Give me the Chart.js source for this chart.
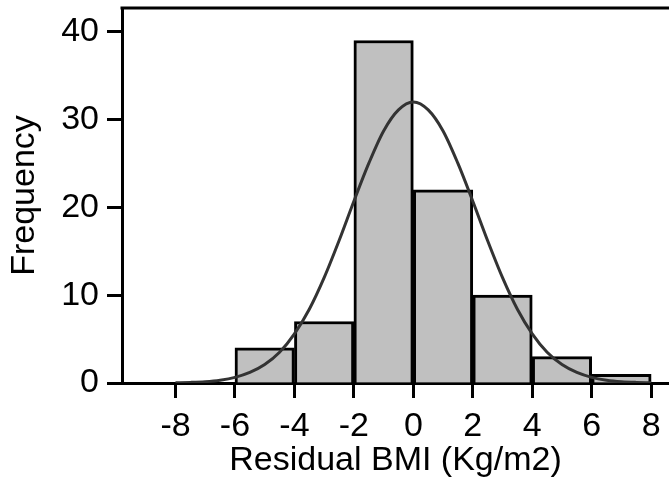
<!DOCTYPE html>
<html>
<head>
<meta charset="utf-8">
<script src="https://cdn.jsdelivr.net/npm/chart.js@4"></script>
<style>
html,body{margin:0;padding:0;background:#fff;}
#wrap{width:669px;height:481px;position:relative;}
</style>
</head>
<body>
<div id="wrap"><canvas id="c" width="669" height="481"></canvas></div>
<script>
// Histogram bins (centres) and counts
const binCenters = [-5, -3, -1, 1, 3, 5, 7];
const binCounts  = [4, 7, 39, 22, 10, 3, 1];
// Fitted normal curve
const curveX = [-8,-7.5,-7,-6.5,-6,-5.5,-5,-4.5,-4,-3.5,-3,-2.5,-2,-1.5,-1,-0.5,0,0.5,1,1.5,2,2.5,3,3.5,4,4.5,5,5.5,6,6.5,7,7.5,8];
const curveY = [0.03,0.07,0.15,0.32,0.64,1.2,2.1,3.5,5.6,8.4,12.0,16.2,20.7,25.0,28.7,31.1,32,31.1,28.7,25.0,20.7,16.2,12.0,8.4,5.6,3.5,2.1,1.2,0.64,0.32,0.15,0.07,0.03];
// Tick labels
const xTicks = [-8,-6,-4,-2,0,2,4,6,8];
const yTicks = [0,10,20,30,40];

const font = {family: "'Liberation Sans', Arial, Helvetica, sans-serif", size: 34};

const topLine = {
  id: 'topLine',
  afterDraw(chart) {
    const {ctx, chartArea} = chart;
    ctx.save();
    ctx.strokeStyle = '#000';
    ctx.lineWidth = 3;
    ctx.beginPath();
    ctx.moveTo(chartArea.left - 1.5, chartArea.top);
    ctx.lineTo(chartArea.right, chartArea.top);
    ctx.stroke();
    ctx.restore();
  }
};

new Chart(document.getElementById('c'), {
  data: {
    datasets: [
      {
        type: 'line',
        data: curveX.map((x, i) => ({x: x, y: curveY[i]})),
        borderColor: '#333333',
        borderWidth: 3,
        pointRadius: 0,
        cubicInterpolationMode: 'monotone',
        fill: false,
        order: 0
      },
      {
        type: 'bar',
        data: binCenters.map((x, i) => ({x: x, y: binCounts[i]})),
        backgroundColor: '#c0c0c0',
        borderColor: '#000',
        borderWidth: 3,
        barPercentage: 1,
        categoryPercentage: 1,
        order: 1
      }
    ]
  },
  options: {
    responsive: false,
    animation: false,
    layout: {padding: {top: 8, right: 0, left: 0, bottom: 0}},
    plugins: {legend: {display: false}, tooltip: {enabled: false}},
    scales: {
      x: {
        type: 'linear',
        min: -9.8,
        max: 8.6,
        offset: false,
        afterBuildTicks: s => { s.ticks = xTicks.map(v => ({value: v})); },
        afterFit: s => { s.height = 98; s.paddingLeft = 0; s.paddingRight = 0; },
        ticks: {color: '#000', font: font, padding: 8, maxRotation: 0, autoSkip: false},
        grid: {offset: false, drawOnChartArea: false, drawTicks: true, tickLength: 15, tickWidth: 3, tickColor: '#000'},
        border: {display: true, color: '#000', width: 3},
        title: {display: true, text: 'Residual BMI (Kg/m2)', color: '#000', font: font, padding: {top: 0, bottom: 0}}
      },
      y: {
        type: 'linear',
        min: 0,
        max: 42.7,
        afterBuildTicks: s => { s.ticks = yTicks.map(v => ({value: v})); },
        afterFit: s => { s.width = 122; s.paddingTop = 0; s.paddingBottom = 0; },
        ticks: {color: '#000', font: font, padding: 8},
        grid: {drawOnChartArea: false, drawTicks: true, tickLength: 15, tickWidth: 3, tickColor: '#000'},
        border: {display: true, color: '#000', width: 3},
        title: {display: true, text: 'Frequency', color: '#000', font: font, padding: {top: 4, bottom: 0}}
      }
    }
  },
  plugins: [topLine]
});
</script>
</body>
</html>
